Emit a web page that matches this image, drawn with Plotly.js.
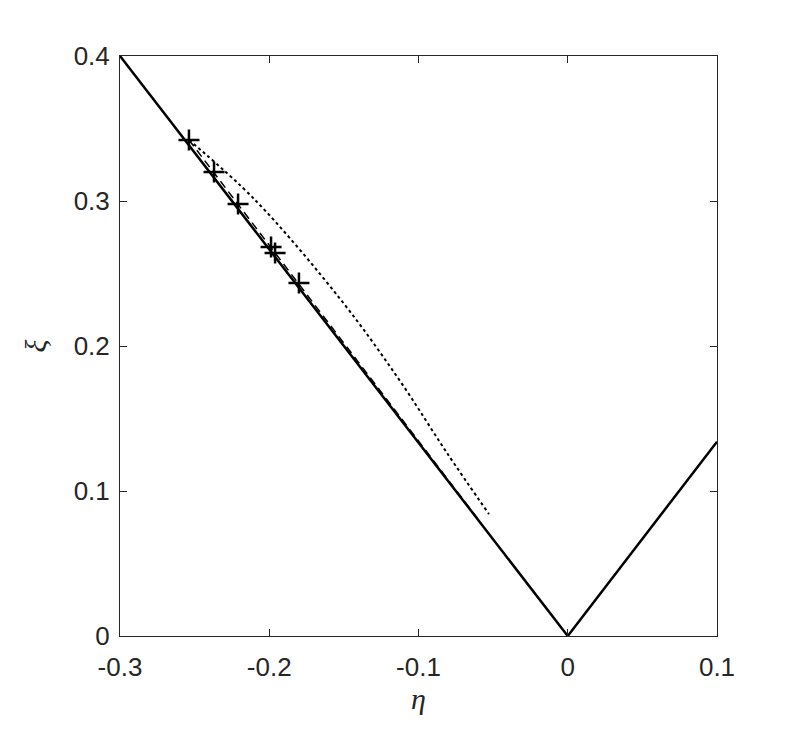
<!DOCTYPE html>
<html>
<head>
<meta charset="utf-8">
<script src="https://cdn.plot.ly/plotly-3.0.1.min.js"></script>
<style>
  html, body { margin: 0; padding: 0; background: #fff; }
  #chart { width: 793px; height: 733px; }
</style>
</head>
<body>
<div id="chart"></div>
<script>
// boundary (solid)
const boundaryEta = [-0.3, 0, 0.1];
const boundaryXi = [0.4, 0, 0.134];

// dashed curve, sits just above the boundary
const dashedEta = [-0.2538, -0.2, -0.15, -0.1, -0.06];
const dashedXi = [0.3421, 0.2695, 0.2025, 0.1345, 0.0805];

// dotted curve
const dottedEta = [-0.2538, -0.2095, -0.1519, -0.1124, -0.0809, -0.0528];
const dottedXi = [0.3421, 0.3007, 0.2317, 0.1759, 0.1262, 0.0841];

// '+' markers
const markEta = [-0.2538, -0.2370, -0.2209, -0.1988, -0.1961, -0.1801];
const markXi = [0.3421, 0.3200, 0.2979, 0.2683, 0.2641, 0.2434];

const INK = '#000000';
const AXIS = '#262626';

const traces = [
  { x: boundaryEta, y: boundaryXi, mode: 'lines', type: 'scatter',
    line: { color: INK, width: 2.5 }, hoverinfo: 'none' },
  { x: dashedEta, y: dashedXi, mode: 'lines', type: 'scatter',
    line: { color: INK, width: 1.5, dash: '8px,5px' }, hoverinfo: 'none' },
  { x: dottedEta, y: dottedXi, mode: 'lines', type: 'scatter',
    line: { color: INK, width: 2, dash: 'dot', shape: 'spline' }, hoverinfo: 'none' },
  { x: markEta, y: markXi, mode: 'markers', type: 'scatter',
    marker: { symbol: 'cross-thin-open', size: 15, color: INK, line: { color: INK, width: 2.5 } },
    hoverinfo: 'none' },
];

const axisBase = {
  showgrid: false,
  zeroline: false,
  showline: true,
  mirror: 'ticks',
  linecolor: AXIS,
  linewidth: 1,
  ticks: 'inside',
  ticklen: 7,
  tickwidth: 1,
  tickcolor: AXIS,
  tickfont: { family: 'Liberation Sans, Arial, sans-serif', size: 26, color: AXIS },
};

const layout = {
  width: 793,
  height: 733,
  margin: { l: 120, r: 76, t: 56, b: 97 },
  paper_bgcolor: '#fff',
  plot_bgcolor: '#fff',
  showlegend: false,
  xaxis: Object.assign({}, axisBase, {
    range: [-0.3, 0.1],
    tickvals: [-0.3, -0.2, -0.1, 0, 0.1],
    ticktext: ['-0.3', '-0.2', '-0.1', '0', '0.1'],
    ticklabelstandoff: 8,
    title: { text: '<i>η</i>', font: { family: 'Liberation Serif, Times New Roman, serif', size: 30, color: AXIS }, standoff: 0 },
  }),
  yaxis: Object.assign({}, axisBase, {
    range: [0, 0.4],
    tickvals: [0, 0.1, 0.2, 0.3, 0.4],
    ticktext: ['0', '0.1', '0.2', '0.3', '0.4'],
    ticklabelstandoff: 4,
    title: { text: '<i>ξ</i>', font: { family: 'Liberation Serif, Times New Roman, serif', size: 30, color: AXIS }, standoff: 18 },
  }),
};

Plotly.newPlot('chart', traces, layout, { staticPlot: true, displayModeBar: false });
</script>
</body>
</html>
